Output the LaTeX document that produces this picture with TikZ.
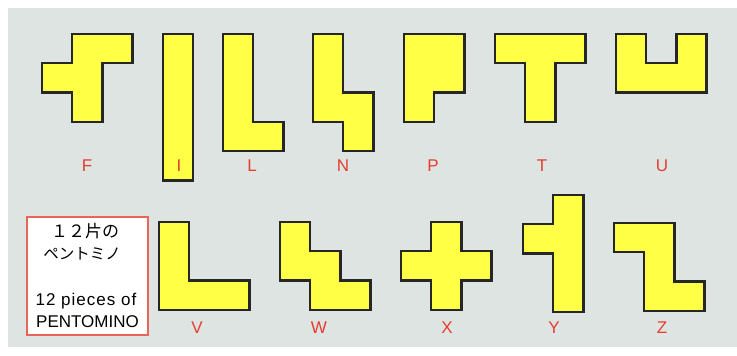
\documentclass[tikz,border=0pt]{standalone}
\usepackage{fontspec}
\setmainfont{Liberation Sans}
\newfontfamily\jpfont{Noto Sans CJK JP}
\definecolor{boardgray}{RGB}{222,228,225}
\definecolor{pieceyellow}{RGB}{255,255,70}
\definecolor{labelred}{RGB}{228,62,48}
\begin{document}
\begin{tikzpicture}[x=1pt, y=-1pt, line join=miter,
		piece/.style={draw=black!85, line width=2.3pt, fill=pieceyellow},
		lbl/.style={text=labelred, font=\fontsize{17}{19}\selectfont, inner sep=0pt}]
			\def\pento#1#2#3{
				\begin{scope}[shift={(#1,#2)}, x=30.2pt, y=-29.3pt]
					\draw[piece] #3 -- cycle;
				\end{scope}
			}
			
			\useasboundingbox (0,0) rectangle (737,356);
			\fill[white] (0,0) rectangle (737,356);
			\fill[boardgray] (8,8) rectangle (737,347);
			
			% top row
			\pento{42}{34}{(1,0) -- (3,0) -- (3,1) -- (2,1) -- (2,3) -- (1,3) -- (1,2) -- (0,2) -- (0,1) -- (1,1)}
			\pento{163}{34}{(0,0) -- (1,0) -- (1,5) -- (0,5)}
			\pento{223}{34}{(0,0) -- (1,0) -- (1,3) -- (2,3) -- (2,4) -- (0,4)}
			\pento{313}{34}{(0,0) -- (1,0) -- (1,2) -- (2,2) -- (2,4) -- (1,4) -- (1,3) -- (0,3)}
			\pento{404}{34}{(0,0) -- (2,0) -- (2,2) -- (1,2) -- (1,3) -- (0,3)}
			\pento{495}{34}{(0,0) -- (3,0) -- (3,1) -- (2,1) -- (2,3) -- (1,3) -- (1,1) -- (0,1)}
			\pento{616}{34}{(0,0) -- (1,0) -- (1,1) -- (2,1) -- (2,0) -- (3,0) -- (3,2) -- (0,2)}
			
			% bottom row
			\pento{159}{222}{(0,0) -- (1,0) -- (1,2) -- (3,2) -- (3,3) -- (0,3)}
			\pento{280}{222}{(0,0) -- (1,0) -- (1,1) -- (2,1) -- (2,2) -- (3,2) -- (3,3) -- (1,3) -- (1,2) -- (0,2)}
			\pento{401}{222}{(1,0) -- (2,0) -- (2,1) -- (3,1) -- (3,2) -- (2,2) -- (2,3) -- (1,3) -- (1,2) -- (0,2) -- (0,1) -- (1,1)}
			\pento{523}{195}{(1,0) -- (2,0) -- (2,4) -- (1,4) -- (1,2) -- (0,2) -- (0,1) -- (1,1)}
			\pento{614}{223}{(0,0) -- (2,0) -- (2,2) -- (3,2) -- (3,3) -- (1,3) -- (1,1) -- (0,1)}
			
			\foreach \n/\x/\y in {F/87/166, I/179/166, L/252/166, N/343/166, P/433/166, T/542/166, U/662/166,
				V/197/328, W/319/328, X/447/328, Y/554/328, Z/662/328}
				\node[lbl] (lbl\n) at (\x,\y) {\n};
			
			\node[draw=labelred!80, line width=1.3pt, fill=white, minimum width=121pt, minimum height=118pt, inner sep=0pt] (title) at (87.5,276) {};
			\node[font=\jpfont\fontsize{17}{19}\selectfont, inner sep=0pt] (titlejp) at (85,231) {１２片の};
			\node[font=\jpfont\fontsize{15.5}{17}\selectfont, inner sep=0pt] (titlejpb) at (82,254) {ペントミノ};
			\node[font=\fontsize{17}{19}\selectfont\addfontfeature{LetterSpace=6}, inner sep=0pt] (titleen) at (86,301) {12 pieces of};
			\node[font=\fontsize{17}{19}\selectfont, inner sep=0pt] (titleenb) at (87.5,322) {PENTOMINO};
		\end{tikzpicture}
\end{document}
